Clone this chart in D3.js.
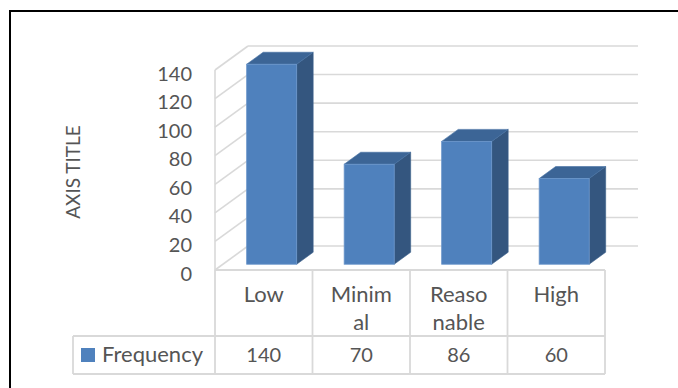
<!DOCTYPE html>
<html>
<head>
<meta charset="utf-8">
<script src="https://cdn.jsdelivr.net/npm/d3@7"></script>
<style>
  html, body { margin: 0; padding: 0; background: #fff; }
  svg { display: block; font-family: Lato, "Noto Sans", sans-serif; }
</style>
</head>
<body>
<svg id="chart" width="678" height="388"></svg>
<script>
// Frequency of each rating level
const categories = ["Low", "Minimal", "Reasonable", "High"];
const categoryLines = [["Low"], ["Minim", "al"], ["Reaso", "nable"], ["High"]];
const seriesName = "Frequency";
const values = [140, 70, 86, 60];
const yTicks = [0, 20, 40, 60, 80, 100, 120, 140];
const axisTitle = "AXIS TITLE";

const W = 678, H = 388;
const svg = d3.select("#chart");
svg.append("rect").attr("width", W).attr("height", H).attr("fill", "#fff");

// outer frame (only the top and left edges fall inside the view)
svg.append("path")
  .attr("d", `M10,${H} V11 H${W}`)
  .attr("fill", "none").attr("stroke", "#000").attr("stroke-width", 2);

// front plane scales
const x = d3.scaleBand().domain(categories).range([215, 605]).padding(0);
const y = d3.scaleLinear().domain([0, 140]).range([270, 70]);

// oblique depth vector of the floor
const depth = { dx: 33, dy: -24 };
const at = (px, py, z) => [px + depth.dx * z, py + depth.dy * z];

const gridColor = "#d9d9d9";
const textColor = "#555555";

// back wall gridlines
const grid = svg.append("g");
yTicks.forEach(t => {
  const [bx0, by] = at(x.range()[0], y(t), 1);
  const [bx1] = at(x.range()[1], y(t), 1);
  grid.append("line")
    .attr("x1", bx0).attr("y1", by).attr("x2", bx1).attr("y2", by)
    .attr("stroke", gridColor).attr("stroke-width", 1.6);
  // side wall diagonals
  grid.append("line")
    .attr("x1", x.range()[0]).attr("y1", y(t))
    .attr("x2", bx0).attr("y2", by)
    .attr("stroke", gridColor).attr("stroke-width", 1.6);
});
// front edge of side wall
grid.append("line")
  .attr("x1", x.range()[0]).attr("y1", y(140))
  .attr("x2", x.range()[0]).attr("y2", y(0))
  .attr("stroke", gridColor).attr("stroke-width", 1.6);

// y tick labels
svg.append("g").selectAll("text").data(yTicks).join("text")
  .attr("x", 192).attr("y", d => y(d) + 10.5)
  .attr("text-anchor", "end")
  .attr("font-size", 20).attr("fill", textColor)
  .text(d => d);

// axis title
svg.append("text")
  .attr("transform", "translate(80,172) rotate(-90)")
  .attr("text-anchor", "middle")
  .attr("font-size", 19).attr("fill", textColor)
  .text(axisTitle);

// 3D columns
const zFront = 0.24, zBack = 0.74;
const barW = x.bandwidth() * 0.513;
const bars = svg.append("g");
categories.forEach((c, i) => {
  const v = values[i];
  const left = x(c) + (x.bandwidth() - barW) / 2;
  const right = left + barW;
  const [fl, ft] = at(left, y(v), zFront);
  const [fr, fb] = at(right, y(0), zFront);
  const [bl, bt] = at(left, y(v), zBack);
  const [br, bb] = at(right, y(0), zBack);
  // side face
  bars.append("polygon")
    .attr("points", [[fr, ft], [br, bt], [br, bb], [fr, fb]].join(" "))
    .attr("fill", "#34567f").attr("stroke", "#3a5f8c").attr("stroke-width", 0.6);
  // top face
  bars.append("polygon")
    .attr("points", [[fl, ft], [fr, ft], [br, bt], [bl, bt]].join(" "))
    .attr("fill", "#3c6596").attr("stroke", "#4470a3").attr("stroke-width", 0.6);
  // front face
  bars.append("rect")
    .attr("x", fl).attr("y", ft).attr("width", fr - fl).attr("height", fb - ft)
    .attr("fill", "#4f81bd").attr("stroke", "#6b96cb").attr("stroke-width", 0.8);
});

// data table under the plot
const tableTop = y(0), rowSplit = 336, tableBottom = 374, legendLeft = 73;
const table = svg.append("g").attr("stroke", gridColor).attr("stroke-width", 1.8).attr("fill", "none");
table.append("line").attr("x1", x.range()[0]).attr("x2", x.range()[1]).attr("y1", tableTop).attr("y2", tableTop);
table.append("line").attr("x1", legendLeft).attr("x2", x.range()[1]).attr("y1", rowSplit).attr("y2", rowSplit);
table.append("line").attr("x1", legendLeft).attr("x2", x.range()[1]).attr("y1", tableBottom).attr("y2", tableBottom);
table.append("line").attr("x1", legendLeft).attr("x2", legendLeft).attr("y1", rowSplit).attr("y2", tableBottom);
[...categories.map(c => x(c)), x.range()[1]].forEach(px => {
  table.append("line").attr("x1", px).attr("x2", px).attr("y1", tableTop).attr("y2", tableBottom);
});

// category header labels and value cells
categories.forEach((c, i) => {
  const cx = x(c) + x.bandwidth() / 2;
  categoryLines[i].forEach((ln, j) => {
    svg.append("text")
      .attr("x", cx).attr("y", 302 + j * 27.7)
      .attr("text-anchor", "middle")
      .attr("font-size", 22).attr("fill", textColor)
      .text(ln);
  });
  svg.append("text")
    .attr("x", cx).attr("y", 362)
    .attr("text-anchor", "middle")
    .attr("font-size", 20).attr("fill", textColor)
    .text(values[i]);
});

// legend key
svg.append("rect").attr("x", 81).attr("y", 348).attr("width", 14).attr("height", 14).attr("fill", "#4f81bd");
svg.append("text")
  .attr("x", 102).attr("y", 362)
  .attr("font-size", 22).attr("fill", textColor)
  .text(seriesName);
</script>
</body>
</html>
